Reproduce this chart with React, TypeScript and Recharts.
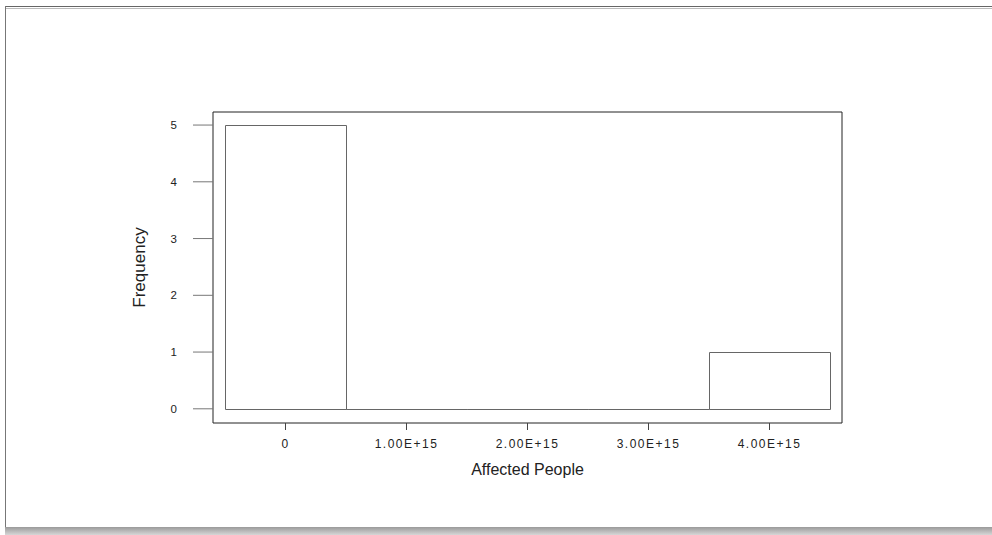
import { BarChart, Bar, XAxis, YAxis } from 'recharts';

// histogram bins (bin centres) and counts
const bins = ['0', '1.00E+15', '2.00E+15', '3.00E+15', '4.00E+15'];
const frequency = [5, 0, 0, 0, 1];
const freqTicks = [0, 1, 2, 3, 4, 5];
const freqDomain = [-0.25, 5.23];

const data = bins.map((bin, i) => ({ bin, count: frequency[i] }));

const FONT = '"Liberation Sans", Arial, sans-serif';

// outlined bar, still drawn as a flat line when the count is zero
function HistBar(props: any) {
  const { x, y, width, height } = props;
  const left = Math.round(x) + 0.5;
  const right = Math.round(x + width) + 0.5;
  const top = Math.round(y) + 0.5;
  const bottom = Math.round(y + height) + 0.5;
  return (
    <path
      d={`M${left},${bottom}V${top}H${right}V${bottom}Z`}
      fill="#fff"
      stroke="#666"
      strokeWidth={1}
    />
  );
}

export default function App() {
  return (
    <div
      style={{
        position: 'absolute',
        left: 0,
        top: 0,
        width: 992,
        height: 535,
        background: '#fff',
        fontFamily: FONT,
        overflow: 'hidden',
      }}
    >
      {/* page frame */}
      <div
        style={{
          position: 'absolute',
          left: 5,
          top: 6,
          right: -4,
          height: 1,
          borderTop: '1px solid #666',
          borderBottom: '1px solid #bbb',
        }}
      />
      <div
        style={{
          position: 'absolute',
          left: 5,
          top: 6,
          width: 1,
          height: 522,
          background: '#777',
        }}
      />
      <div
        style={{
          position: 'absolute',
          left: 5,
          top: 527,
          right: 0,
          height: 8,
          background: 'linear-gradient(#9a9a9a, #d6d6d6)',
        }}
      />

      <div style={{ position: 'absolute', left: 0, top: 0 }}>
        <BarChart
          width={992}
          height={535}
          data={data}
          margin={{ top: 111, right: 149, bottom: 52, left: 133 }}
          barCategoryGap={0}
          barGap={0}
        >
          <XAxis
            dataKey="bin"
            height={60}
            padding={{ left: 12, right: 12 }}
            axisLine={{ stroke: '#222' }}
            tickLine={{ stroke: '#444' }}
            tickSize={7}
            tickMargin={9}
            tick={{ fill: '#222', fontSize: 12, letterSpacing: 1.5, fontFamily: FONT }}
            interval={0}
            label={{
              value: 'Affected People',
              position: 'insideBottom',
              offset: 8,
              fill: '#222',
              fontSize: 16,
              fontFamily: FONT,
            }}
          />
          {/* top and right edges of the plot box */}
          <XAxis
            xAxisId="top"
            dataKey="bin"
            orientation="top"
            height={1}
            axisLine={{ stroke: '#222' }}
            tick={false}
            tickLine={false}
          />
          <YAxis
            type="number"
            domain={freqDomain}
            ticks={freqTicks}
            allowDataOverflow
            width={80}
            axisLine={{ stroke: '#222' }}
            tickLine={{ stroke: '#777' }}
            tickSize={20}
            tickMargin={16}
            tick={{ fill: '#222', fontSize: 11.5, fontFamily: FONT }}
            label={{
              value: 'Frequency',
              angle: -90,
              position: 'insideLeft',
              offset: 6,
              fill: '#222',
              fontSize: 17,
              fontFamily: FONT,
              style: { textAnchor: 'middle' },
            }}
          />
          <YAxis
            yAxisId="right"
            type="number"
            orientation="right"
            domain={freqDomain}
            width={1}
            axisLine={{ stroke: '#222' }}
            tick={false}
            tickLine={false}
          />
          <Bar dataKey="count" shape={HistBar} isAnimationActive={false} />
        </BarChart>
      </div>
    </div>
  );
}
